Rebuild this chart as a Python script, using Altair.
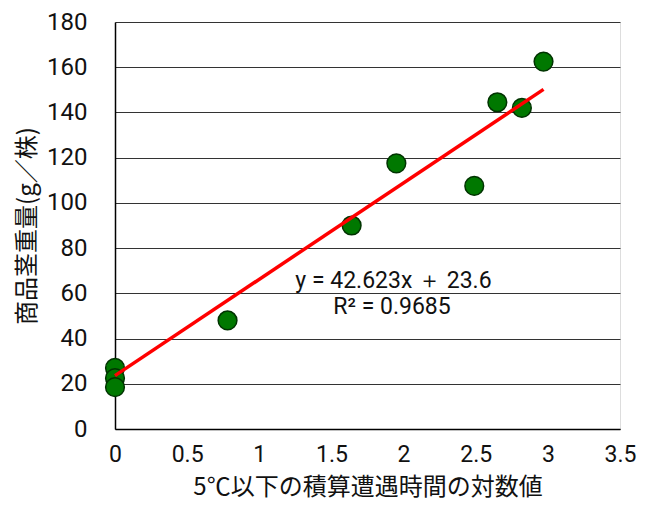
import altair as alt
import pandas as pd

# data
x_vals = [0.0, 0.0, 0.0, 0.78, 1.64, 1.95, 2.49, 2.65, 2.82, 2.97]
y_vals = [27.0, 22.5, 18.5, 48.0, 90.0, 117.5, 107.5, 144.5, 142.0, 162.5]
slope = 42.623
intercept = 23.6
line_x = [0.0, 2.97]
ann_x = [1.93, 1.92]
ann_y = [65.5, 54.0]
ann_text = ["y = 42.623x ＋ 23.6", "R² = 0.9685"]
x_ticks = [0, 0.5, 1, 1.5, 2, 2.5, 3, 3.5]
y_ticks = [0, 20, 40, 60, 80, 100, 120, 140, 160, 180]

pts = pd.DataFrame({"x": x_vals, "y": y_vals})
fit = pd.DataFrame({"x": line_x, "y": [slope * v + intercept for v in line_x]})
ann = pd.DataFrame({"x": ann_x, "y": ann_y, "t": ann_text})

xs = alt.Scale(domain=[0, 3.5], nice=False, zero=False)
ys = alt.Scale(domain=[0, 180], nice=False)

FONT = "Roboto"
JP = "Noto Sans CJK JP"

xaxis = alt.Axis(values=x_ticks, title="5℃以下の積算遭遇時間の対数値", grid=False, ticks=False,
                 domainColor="black", domainWidth=1.5, labelFontSize=23, labelFont=FONT,
                 labelColor="#111", labelPadding=14, labelFlush=False, labelOverlap=False,
                 format="~g", titleFont=JP, titleFontSize=24,
                 titleFontWeight="normal", titleColor="#111", titlePadding=9)
yaxis = alt.Axis(values=y_ticks, title="商品茎重量(g／株)", grid=True, gridColor="#333",
                 gridWidth=1, ticks=False, domainColor="black", domainWidth=1.5,
                 labelFontSize=24, labelFont=FONT, labelColor="#111", labelPadding=28,
                 labelFlush=False, labelOverlap=False,
                 titleFont=JP, titleFontSize=24, titleFontWeight="normal", titleColor="#111",
                 titlePadding=7)

base_pts = alt.Chart(pts).mark_circle(size=350, color="#007800", stroke="#003300",
                                      strokeWidth=1.5, opacity=1).encode(
    x=alt.X("x:Q", scale=xs, axis=xaxis),
    y=alt.Y("y:Q", scale=ys, axis=yaxis),
)

line = alt.Chart(fit).mark_line(color="#ff0000", strokeWidth=3.5).encode(
    x=alt.X("x:Q", scale=xs),
    y=alt.Y("y:Q", scale=ys),
)

text = alt.Chart(ann).mark_text(fontSize=23, font=FONT, color="#111", align="center",
                                baseline="middle").encode(
    x=alt.X("x:Q", scale=xs),
    y=alt.Y("y:Q", scale=ys),
    text="t:N",
)

chart = alt.layer(base_pts, line, text).properties(
    width=505, height=407,
    autosize=alt.AutoSizeParams(type="none"),
    padding={"left": 107, "top": 14, "right": 20, "bottom": 72},
).configure_view(stroke=None).configure(background="white")

chart.save("out.html", embed_options={"renderer": "svg", "actions": False})
